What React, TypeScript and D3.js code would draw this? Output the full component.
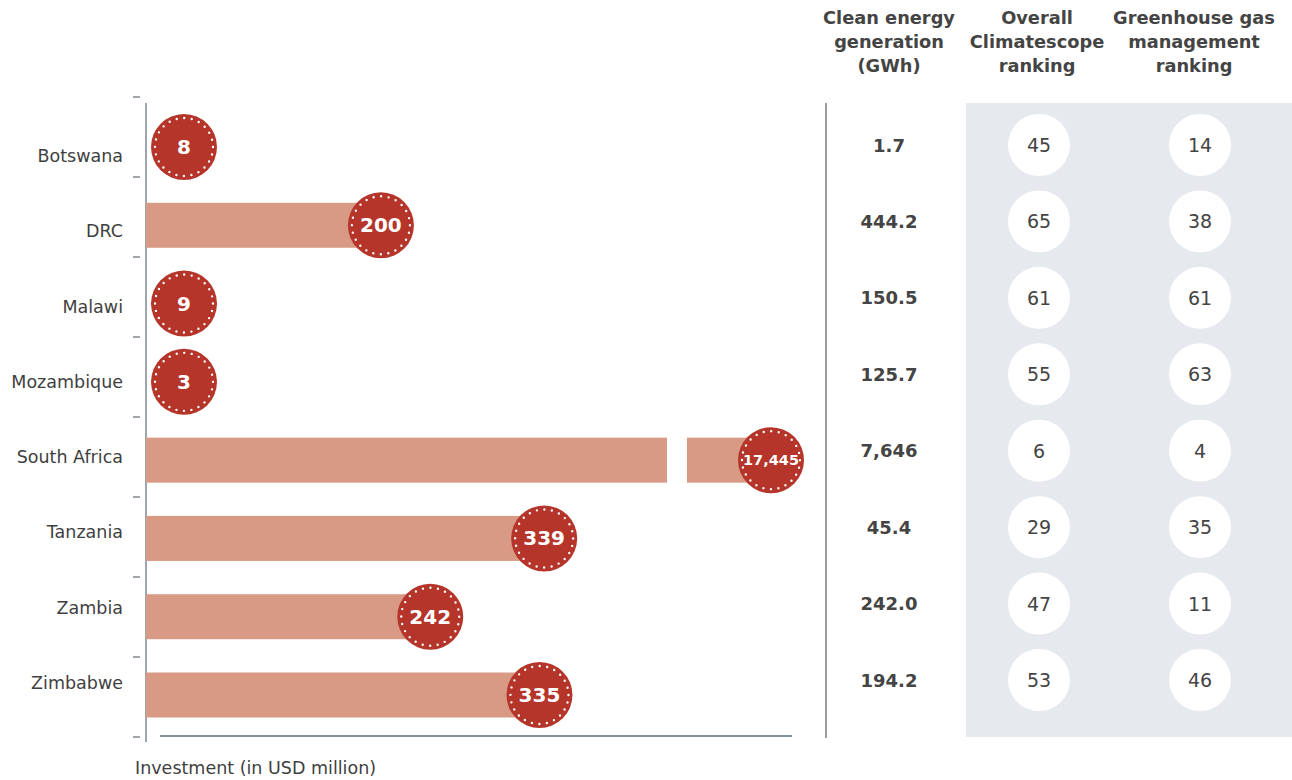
import React from "react";
import * as d3 from "d3";

const countries = ["Botswana", "DRC", "Malawi", "Mozambique", "South Africa", "Tanzania", "Zambia", "Zimbabwe"];
const investment = [8, 200, 9, 3, 17445, 339, 242, 335];
const cleanEnergy = ["1.7", "444.2", "150.5", "125.7", "7,646", "45.4", "242.0", "194.2"];
const overallRank = [45, 65, 61, 55, 6, 29, 47, 53];
const ghgRank = [14, 38, 61, 63, 4, 35, 11, 46];
const headers = [
  ["Clean energy", "generation", "(GWh)"],
  ["Overall", "Climatescope", "ranking"],
  ["Greenhouse gas", "management", "ranking"],
];
const xDomainMax = 550;
const axisTitle = "Investment (in USD million)";

const FONT = "'DejaVu Sans', 'Open Sans', sans-serif";
const BAR = "#d89a85";
const DOT = "#b5352a";
const TEXT = "#3f3f3f";

export default function App() {
  const W = 1292, H = 780;
  const x0 = 146, x1 = 792;
  const r = 33;
  const x = d3.scaleLinear().domain([0, xDomainMax]).range([x0, x1]);
  const yBar = d3.scalePoint<string>().domain(countries).range([147, 695]);
  const yLabel = d3.scalePoint<string>().domain(countries).range([156, 683]);
  const yRow = d3.scalePoint<string>().domain(countries).range([145, 680]);
  const yTick = d3.scaleLinear().domain([0, countries.length]).range([97, 737]);
  const barH = 45;
  const colX = [889, 1037, 1194];
  const circX = [1039, 1200];

  const fmt = d3.format(",");

  return (
    <div style={{ position: "absolute", left: 0, top: 0 }}>
      <svg width={W} height={H} style={{ display: "block", fontFamily: FONT }}>
        {/* headers */}
        {headers.map((lines, i) => (
          <text key={i} x={colX[i]} textAnchor="middle" fontSize={17.8} fontWeight={700} fill="#444">
            {lines.map((l, j) => (
              <tspan key={j} x={colX[i]} y={24 + j * 24}>{l}</tspan>
            ))}
          </text>
        ))}

        {/* y ticks */}
        {d3.range(countries.length + 1).map((i) => (
          <line key={i} x1={133} x2={140} y1={yTick(i)} y2={yTick(i)} stroke="#6b7682" strokeWidth={1.3} />
        ))}
        {/* y axis line */}
        <line x1={x0} x2={x0} y1={103} y2={742} stroke="#6b7682" strokeWidth={1.3} />
        {/* x axis line */}
        <line x1={160} x2={x1} y1={736} y2={736} stroke="#5f6d7b" strokeWidth={1.3} />

        {/* country labels */}
        {countries.map((c) => (
          <text key={c} x={123} y={yLabel(c)} textAnchor="end" dominantBaseline="central" fontSize={17.5} fill={TEXT}>
            {c}
          </text>
        ))}

        {/* bars and circles */}
        {countries.map((c, i) => {
          const v = investment[i];
          const cy = yBar(c) as number;
          const broken = v > xDomainMax;
          const cx = broken ? x1 - 21 : Math.max(x(v), x0 + 38);
          const barEnd = broken ? cx : x(v);
          const showBar = barEnd - r > x0;
          const label = fmt(v);
          return (
            <g key={c}>
              {showBar && !broken && (
                <rect x={x0} y={cy - barH / 2} width={barEnd - x0} height={barH} fill={BAR} />
              )}
              {broken && (
                <>
                  <rect x={x0} y={cy - barH / 2} width={x1 - 125 - x0} height={barH} fill={BAR} />
                  <rect x={x1 - 105} y={cy - barH / 2} width={cx - (x1 - 105)} height={barH} fill={BAR} />
                </>
              )}
              <circle cx={cx} cy={cy} r={r} fill={DOT} />
              <circle
                cx={cx}
                cy={cy}
                r={r - 4}
                fill="none"
                stroke="#fff"
                strokeWidth={2.4}
                strokeLinecap="round"
                strokeDasharray={`0 ${(2 * Math.PI * (r - 4)) / 24}`}
              />
              <text
                x={cx}
                y={cy}
                textAnchor="middle"
                dominantBaseline="central"
                fontSize={label.length > 4 ? 14.5 : 20}
                fontWeight={700}
                fill="#fff"
              >
                {label}
              </text>
            </g>
          );
        })}

        {/* divider */}
        <line x1={826} x2={826} y1={103} y2={738} stroke="#6b6b6b" strokeWidth={1.3} />
        {/* ranking panel */}
        <rect x={966} y={103} width={W - 966} height={634} fill="#e6eaee" />

        {countries.map((c, i) => {
          const cy = yRow(c) as number;
          return (
            <g key={c}>
              <text x={colX[0]} y={cy} textAnchor="middle" dominantBaseline="central" fontSize={18} fontWeight={700} fill="#444">
                {cleanEnergy[i]}
              </text>
              <circle cx={circX[0]} cy={cy} r={31} fill="#fff" />
              <text x={circX[0]} y={cy} textAnchor="middle" dominantBaseline="central" fontSize={19} fill="#444">
                {overallRank[i]}
              </text>
              <circle cx={circX[1]} cy={cy} r={31} fill="#fff" />
              <text x={circX[1]} y={cy} textAnchor="middle" dominantBaseline="central" fontSize={19} fill="#444">
                {ghgRank[i]}
              </text>
            </g>
          );
        })}

        <text x={135} y={774} fontSize={17.5} fill={TEXT}>{axisTitle}</text>
      </svg>
    </div>
  );
}
